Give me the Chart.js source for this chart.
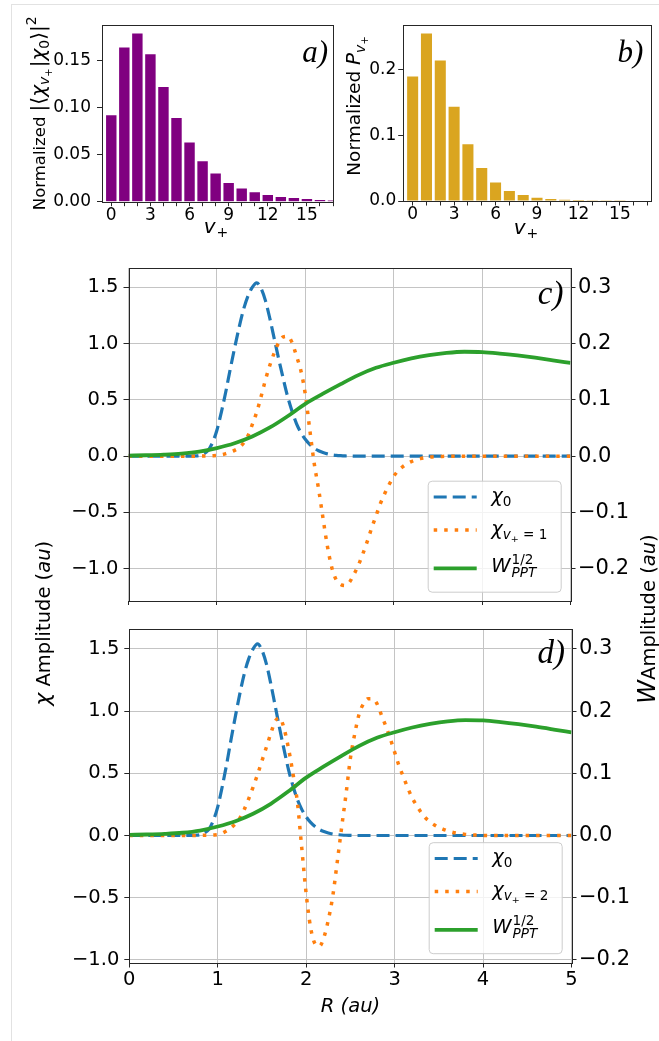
<!DOCTYPE html>
<html>
<head>
<meta charset="utf-8">
<script src="https://cdn.jsdelivr.net/npm/chart.js@4.4.1/dist/chart.umd.min.js"></script>
<style>
html,body{margin:0;padding:0;background:#fff;}
body{width:659px;height:1041px;position:relative;overflow:hidden;}
canvas{position:absolute;}
#frame{position:absolute;left:11px;top:4px;width:700px;height:1100px;border-left:1px solid #e2e2e2;border-top:1px solid #e2e2e2;}
</style>
</head>
<body>
<div id="frame"></div>
<canvas id="cA" width="340" height="250" style="left:0px;top:0px"></canvas>
<canvas id="cB" width="319" height="250" style="left:340px;top:0px"></canvas>
<canvas id="cC" width="659" height="350" style="left:0px;top:255px"></canvas>
<canvas id="cD" width="659" height="786" style="left:0px;top:255px"></canvas>
<script>
// ---------------- data ----------------
const vPlusA = [0,1,2,3,4,5,6,7,8,9,10,11,12,13,14,15,16,17];
const overlapSq = [0.092,0.164,0.179,0.157,0.122,0.089,0.063,0.043,0.030,0.020,0.014,0.010,0.007,0.005,0.0039,0.0028,0.0018,0.0012];
const vPlusB = [0,1,2,3,4,5,6,7,8,9,10,11,12,13,14,15];
const probPv = [0.189,0.254,0.213,0.143,0.086,0.050,0.028,0.015,0.009,0.005,0.003,0.002,0.0015,0.001,0.001,0.001];
const barTickMarks = [0,1,2,3,4,5,6,7,8,9,10,11,12,13,14,15,16,17];
const barTickLabels = [0,3,6,9,12,15];
const yTicksA = [0,0.05,0.10,0.15];
const yTicksB = [0,0.1,0.2];
const xTicksR = [0,1,2,3,4,5];
const yTicksChi = [-1,-0.5,0,0.5,1,1.5];
const yTicksW = [-0.2,-0.1,0,0.1,0.2,0.3];

const R = [0,0.1,0.2,0.3,0.4,0.5,0.6,0.7,
  0.75,0.8,0.85,0.9,0.95,
  1.0,1.05,1.1,1.15,1.2,1.25,1.3,1.35,1.4,1.45,
  1.5,1.55,1.6,1.65,1.7,1.75,1.8,1.85,1.9,1.95,
  2.0,2.05,2.1,2.15,2.2,2.25,2.3,2.35,2.4,2.45,
  2.5,2.55,2.6,2.65,2.7,2.75,2.8,2.85,2.9,2.95,
  3.0,3.05,3.1,3.15,3.2,3.25,3.3,3.35,3.4,3.45,
  3.5,3.55,3.6,3.65,3.7,3.75,3.8,3.85,3.9,3.95,
  4.0,
  4.1,4.2,4.3,4.4,4.5,4.6,4.7,4.8,4.9,5.0];
const chi0 = [0,0,0,0,0,0,0,0.001,
  0.002,0.006,0.02,0.05,0.12,
  0.23,0.39,0.57,0.77,0.96,1.14,1.30,1.42,1.50,1.54,
  1.49,1.38,1.22,1.04,0.86,0.69,0.53,0.40,0.29,0.21,
  0.15,0.105,0.072,0.048,0.032,0.02,0.012,0.007,0.004,0.002,
  0.001,0,0,0,0,0,0,0,0,0,
  0,0,0,0,0,0,0,0,0,0,
  0,0,0,0,0,0,0,0,0,0,
  0,
  0,0,0,0,0,0,0,0,0,0];
const chi1 = [0,0,0,0,0,0,0,0,
  0,0.001,0.002,0.003,0.004,
  0.006,0.012,0.022,0.036,0.052,0.075,0.115,0.18,0.28,0.39,
  0.53,0.68,0.81,0.92,1.01,1.06,1.065,1.01,0.89,0.76,
  0.55,0.24,-0.06,-0.29,-0.55,-0.80,-0.99,-1.10,-1.14,-1.15,
  -1.12,-1.05,-0.97,-0.87,-0.76,-0.64,-0.53,-0.42,-0.33,-0.25,
  -0.18,-0.13,-0.095,-0.068,-0.048,-0.033,-0.022,-0.014,-0.009,-0.005,
  -0.003,-0.002,-0.001,0,0,0,0,0,0,0,
  0,
  0,0,0,0,0,0,0,0,0,0];
const chi2 = [0,0,0,0,0,0,0,0,
  0,0.001,0.002,0.003,0.004,
  0.007,0.018,0.038,0.062,0.095,0.14,0.21,0.295,0.39,0.49,
  0.60,0.71,0.82,0.92,0.945,0.86,0.70,0.50,0.27,-0.10,
  -0.47,-0.74,-0.87,-0.89,-0.82,-0.68,-0.49,-0.22,0.06,0.33,
  0.62,0.82,0.98,1.06,1.10,1.10,1.06,0.97,0.88,0.78,
  0.67,0.56,0.47,0.38,0.30,0.24,0.185,0.14,0.11,0.085,
  0.065,0.05,0.037,0.027,0.019,0.013,0.009,0.006,0.004,0.002,
  0.001,
  0,0,0,0,0,0,0,0,0,0];
const RW = [0,0.2,0.4,0.6,0.8,1.0,1.2,1.4,1.6,1.8,2.0,2.2,2.4,2.6,2.8,3.0,3.2,3.4,3.6,3.8,4.0,4.2,4.4,4.6,4.8,5.0];
const Wppt = [0.001,0.0016,0.0026,0.0044,0.008,0.0144,0.023,0.035,0.051,0.071,0.093,0.111,0.128,0.144,0.157,0.166,0.1736,0.1794,0.1836,0.1856,0.185,0.1824,0.179,0.175,0.1704,0.1656];

// ---------------- helpers ----------------
const FAM = '"DejaVu Sans"';
const F = (s, it) => (it ? 'italic ' : '') + s + 'px ' + FAM;
const TICKC = '#262626';

function drawRich(ctx, parts, x, y, align, rot){
  ctx.save();
  ctx.translate(x, y);
  if (rot) ctx.rotate(rot);
  ctx.textBaseline = 'alphabetic';
  ctx.textAlign = 'left';
  ctx.fillStyle = '#000';
  let cx = 0, prevStart = 0; const items = [];
  for (const p of parts){
    ctx.font = p.f;
    const w = ctx.measureText(p.t).width;
    let sx;
    if (p.same){ sx = prevStart; cx = Math.max(cx, sx + w); }
    else { sx = cx + (p.dx || 0); cx = sx + w; }
    items.push([p, sx]); prevStart = sx;
  }
  const off = align === 'center' ? -cx / 2 : (align === 'right' ? -cx : 0);
  for (const [p, sx] of items){ ctx.font = p.f; ctx.fillText(p.t, off + sx, p.dy || 0); }
  ctx.restore();
}
function setTicks(arr){ return s => { s.ticks = arr.map(v => ({value: v})); }; }
function fixW(w){ return s => { s.width = w; s.paddingTop = 0; s.paddingBottom = 0; s.paddingLeft = 0; s.paddingRight = 0; }; }
function fixH(h){ return s => { s.height = h; s.paddingTop = 0; s.paddingBottom = 0; s.paddingLeft = 0; s.paddingRight = 0; }; }
function boxPlugin(extra){
  return { id: 'boxframe', afterDraw(chart){
    const ctx = chart.ctx, a = chart.chartArea;
    ctx.save();
    ctx.strokeStyle = TICKC; ctx.lineWidth = 1;
    const l = Math.round(a.left) + 0.5, t = Math.round(a.top) + 0.5;
    ctx.strokeRect(l, t, Math.round(a.right) - Math.round(a.left), Math.round(a.bottom) - Math.round(a.top));
    ctx.restore();
    if (extra) extra(chart, ctx);
  }};
}
function fmtMinus(v, d){ return (v < 0 ? '\u2212' : '') + Math.abs(v).toFixed(d); }

// ---------------- bar charts ----------------
function barChart(id, xs, ys, color, c){
  return new Chart(document.getElementById(id), {
    type: 'bar',
    data: { datasets: [{ data: xs.map((v, i) => ({x: v, y: ys[i]})), backgroundColor: color, borderWidth: 0, barPercentage: 0.8, categoryPercentage: 1.0 }] },
    options: {
      responsive: false, animation: false, events: [], devicePixelRatio: 1,
      layout: { padding: { top: c.top, right: c.right, left: 0, bottom: 0 } },
      plugins: { legend: { display: false }, tooltip: { enabled: false } },
      scales: {
        x: { type: 'linear', min: c.xmin, max: c.xmax, offset: false,
          grid: { display: true, drawOnChartArea: false, drawTicks: true, tickLength: 4.5, tickColor: TICKC, tickWidth: 1, offset: false },
          border: { display: false },
          ticks: { autoSkip: false, maxRotation: 0, padding: c.xpad, color: '#000', font: { family: 'DejaVu Sans', size: 17 },
            callback: v => barTickLabels.includes(v) ? String(v) : '' },
          afterBuildTicks: setTicks(barTickMarks), afterFit: fixH(c.xh) },
        y: { min: 0, max: c.ymax,
          grid: { display: true, drawOnChartArea: false, drawTicks: true, tickLength: 4.5, tickColor: TICKC, tickWidth: 1 },
          border: { display: false },
          ticks: { padding: c.ypad, color: '#000', font: { family: 'DejaVu Sans', size: 17 }, callback: v => v.toFixed(c.dec) },
          afterBuildTicks: setTicks(c.yt), afterFit: fixW(c.yw) }
      }
    },
    plugins: [boxPlugin(c.extra)]
  });
}

const N16 = F(16.5), M20 = F(20), MI20 = F(20, true), MS14 = F(14), MSI14 = F(14, true), MSS10 = F(10);
const N18 = F(18.5);
const letterFont = s => 'italic ' + s + 'px "Liberation Serif"';

barChart('cA', vPlusA, overlapSq, '#800080', {
  top: 25, right: 7, xmin: -0.75, xmax: 17, xh: 48.3, yw: 101.5, ymax: 0.188, yt: yTicksA, dec: 2, xpad: -1, ypad: 6,
  extra: (chart, ctx) => {
    drawRich(ctx, [{t: 'Normalized ', f: N16}, {t: '|\u27E8', f: M20}, {t: '\u03C7', f: MI20}, {t: 'v', f: MSI14, dy: 4}, {t: '+', f: MSS10, dy: 7},
      {t: '|', f: M20, dx: 1}, {t: '\u03C7', f: MI20}, {t: '0', f: MS14, dy: 4}, {t: '\u27E9|', f: M20}, {t: '2', f: MS14, dy: -9}],
      45, 113.3, 'center', -Math.PI / 2);
    drawRich(ctx, [{t: 'v', f: MI20}, {t: '+', f: MS14, dy: 4, dx: 1}], 216, 233, 'center', 0);
    ctx.save(); ctx.font = letterFont(31); ctx.textAlign = 'right'; ctx.fillStyle = '#000'; ctx.fillText('a)', 328, 62); ctx.restore();
  }
});
barChart('cB', vPlusB, probPv, '#DAA520', {
  top: 25, right: 8, xmin: -0.72, xmax: 17.25, xh: 49, yw: 62.7, ymax: 0.267, yt: yTicksB, dec: 1, xpad: -1, ypad: 2,
  extra: (chart, ctx) => {
    drawRich(ctx, [{t: 'Normalized ', f: N18}, {t: 'P', f: MI20}, {t: 'v', f: MSI14, dy: 5}, {t: '+', f: MSS10, dy: 8}],
      20, 106, 'center', -Math.PI / 2);
    drawRich(ctx, [{t: 'v', f: MI20}, {t: '+', f: MS14, dy: 4, dx: 1}], 186, 234, 'center', 0);
    ctx.save(); ctx.font = letterFont(31); ctx.textAlign = 'right'; ctx.fillStyle = '#000'; ctx.fillText('b)', 303.3, 62); ctx.restore();
  }
});

// ---------------- wavefunction charts ----------------
const L19 = F(19.5), LI19 = F(19.5, true), S13 = F(13.6), SI13 = F(13.6, true), SS9 = F(9.5);
function drawLegend(chart, ctx, labels){
  const a = chart.chartArea;
  const w = 133, h = 111;
  const x = a.right - 9.8 - w, y = a.bottom - 9.3 - h;
  ctx.save();
  ctx.beginPath();
  if (ctx.roundRect) ctx.roundRect(x + 0.5, y + 0.5, w, h, 4); else ctx.rect(x + 0.5, y + 0.5, w, h);
  ctx.fillStyle = 'rgba(255,255,255,0.8)'; ctx.fill();
  ctx.strokeStyle = '#cccccc'; ctx.lineWidth = 1; ctx.stroke();
  const rows = [16.3, 49.3, 87.6];
  const dsIdx = [2, 1, 0];
  rows.forEach((ry, i) => {
    const ds = chart.data.datasets[dsIdx[i]];
    ctx.strokeStyle = ds.borderColor; ctx.lineWidth = ds.borderWidth; ctx.setLineDash(ds.borderDash || []);
    ctx.lineCap = 'butt';
    ctx.beginPath(); ctx.moveTo(x + 6, y + ry); ctx.lineTo(x + 49, y + ry); ctx.stroke();
    ctx.setLineDash([]);
    drawRich(ctx, labels[i], x + 63.5, y + ry + (i === 2 ? 3.5 : 4.6), 'left', 0);
  });
  ctx.restore();
}
function legendLabels(n){
  return [
    [{t: '\u03C7', f: LI19}, {t: '0', f: S13, dy: 4}],
    [{t: '\u03C7', f: LI19}, {t: 'v', f: SI13, dy: 4}, {t: '+', f: SS9, dy: 7}, {t: ' = ' + n, f: S13, dy: 4}],
    [{t: 'W', f: LI19}, {t: '1/2', f: S13, dy: -8, dx: 1}, {t: 'PPT', f: SI13, dy: 5, same: true}]
  ];
}

function waveChart(id, c){
  return new Chart(document.getElementById(id), {
    type: 'line',
    data: { datasets: [
      { label: 'W', data: RW.map((r, i) => ({x: r, y: Wppt[i]})), yAxisID: 'y2', borderColor: '#2ca02c', borderWidth: 3.8,
        pointRadius: 0, cubicInterpolationMode: 'monotone', fill: false, order: 0 },
      { label: 'chiv', data: R.map((r, i) => ({x: r, y: c.chiv[i]})), yAxisID: 'y', borderColor: '#ff7f0e', borderWidth: 3.5,
        borderDash: [3.5, 7], pointRadius: 0, cubicInterpolationMode: 'monotone', fill: false, order: 1 },
      { label: 'chi0', data: R.map((r, i) => ({x: r, y: chi0[i]})), yAxisID: 'y', borderColor: '#1f77b4', borderWidth: 3.2,
        borderDash: [13, 6], pointRadius: 0, cubicInterpolationMode: 'monotone', fill: false, order: 2 }
    ]},
    options: {
      responsive: false, animation: false, events: [], devicePixelRatio: 1,
      layout: { padding: { top: c.top, right: 0, left: 0, bottom: 0 } },
      plugins: { legend: { display: false }, tooltip: { enabled: false } },
      scales: {
        x: { type: 'linear', min: 0, max: 5,
          grid: { display: true, drawOnChartArea: true, color: '#c4c4c4', lineWidth: 1, drawTicks: true, tickLength: 5, tickColor: TICKC, tickWidth: 1 },
          border: { display: false },
          ticks: { maxRotation: 0, padding: 1, color: '#000', font: { family: 'DejaVu Sans', size: 19.5 },
            callback: v => c.xlabels ? String(v) : '' },
          afterBuildTicks: setTicks(xTicksR), afterFit: fixH(c.xh) },
        y: { position: 'left', min: c.ymin, max: c.ymax,
          grid: { display: true, drawOnChartArea: true, color: '#c4c4c4', lineWidth: 1, drawTicks: true, tickLength: 5, tickColor: TICKC, tickWidth: 1 },
          border: { display: false },
          ticks: { padding: 5, color: '#000', font: { family: 'DejaVu Sans', size: 19.5 }, callback: v => fmtMinus(v, 1) },
          afterBuildTicks: setTicks(yTicksChi), afterFit: fixW(c.yw) },
        y2: { position: 'right', min: c.ymin / 5, max: c.ymax / 5,
          grid: { display: true, drawOnChartArea: false, drawTicks: true, tickLength: 5, tickColor: TICKC, tickWidth: 1 },
          border: { display: false },
          ticks: { padding: 2.5, color: '#000', font: { family: 'DejaVu Sans', size: 21 }, callback: v => fmtMinus(v, 1) },
          afterBuildTicks: setTicks(yTicksW), afterFit: fixW(c.y2w) }
      }
    },
    plugins: [boxPlugin(c.extra)]
  });
}

waveChart('cC', {
  chiv: chi1, top: 13, xh: 4, yw: 128.5, y2w: 88.5, ymin: -1.287, ymax: 1.672, xlabels: false,
  extra: (chart, ctx) => {
    drawLegend(chart, ctx, legendLabels(1));
    ctx.save(); ctx.font = letterFont(33); ctx.textAlign = 'right'; ctx.fillStyle = '#000'; ctx.fillText('c)', 563.5, 303.5 - 255); ctx.restore();
  }
});
waveChart('cD', {
  chiv: chi2, top: 374, xh: 78.5, yw: 129.3, y2w: 87.5, ymin: -1.021, ymax: 1.66, xlabels: true,
  extra: (chart, ctx) => {
    drawLegend(chart, ctx, legendLabels(2));
    ctx.save();
    ctx.translate(0, -255);
    ctx.font = letterFont(33); ctx.textAlign = 'right'; ctx.fillStyle = '#000'; ctx.fillText('d)', 565, 663);
    drawRich(ctx, [{t: 'R (au)', f: LI19}], 350.5, 1012, 'center', 0);
    drawRich(ctx, [{t: '\u03C7', f: F(22, true)}, {t: ' Amplitude (', f: L19}, {t: 'au', f: LI19}, {t: ')', f: L19}],
      50, 623.3, 'center', -Math.PI / 2);
    drawRich(ctx, [{t: 'W', f: F(24, true)}, {t: 'Amplitude (', f: L19}, {t: 'au', f: LI19}, {t: ')', f: L19}],
      655, 619, 'center', -Math.PI / 2);
    ctx.restore();
  }
});
</script>
</body>
</html>
